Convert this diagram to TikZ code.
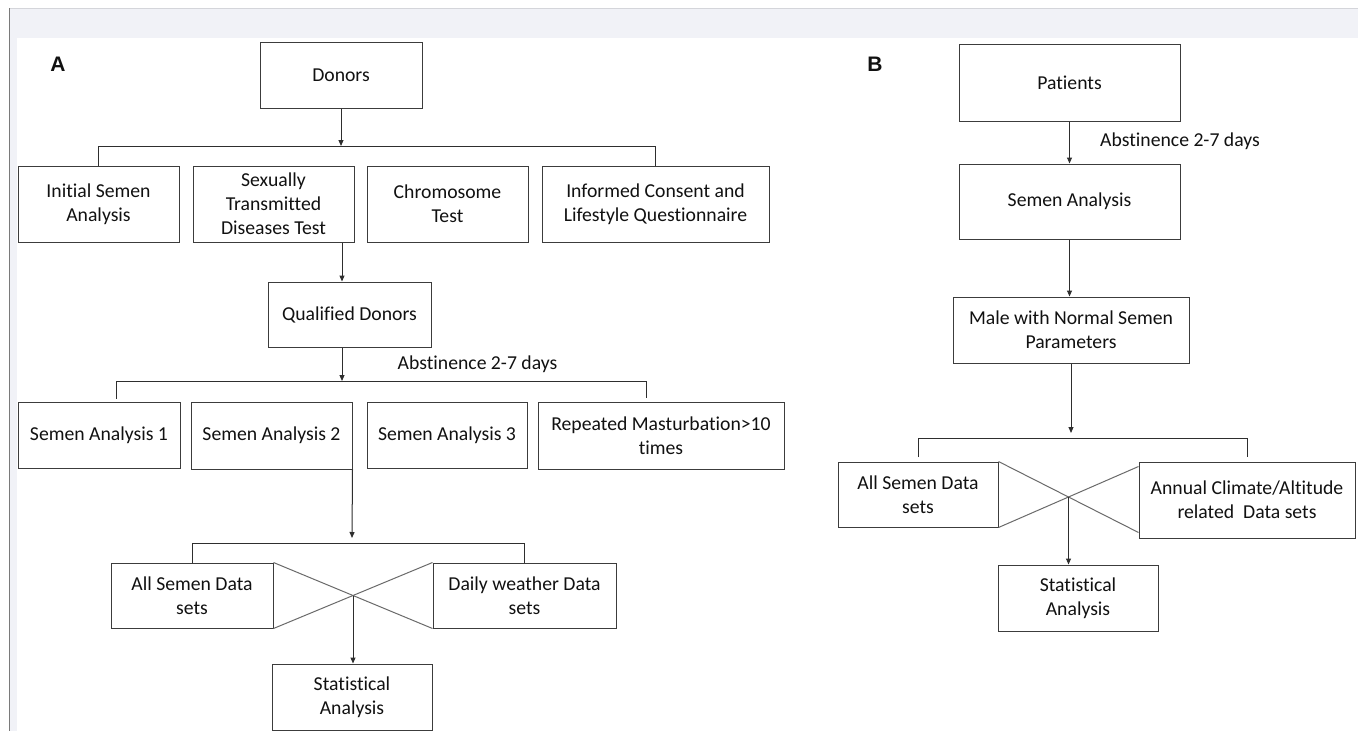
\documentclass[tikz,border=0pt]{standalone}
\usepackage{fontspec}
\setmainfont[Ligatures={NoCommon}]{Carlito}
\newfontfamily\lblfont{Liberation Sans}
\usetikzlibrary{arrows.meta,calc}
\definecolor{bandc}{HTML}{F1F2F7}
\definecolor{topc}{HTML}{D4D5DA}
\definecolor{leftc}{HTML}{7A7A7A}
\definecolor{boxc}{HTML}{3C3C3C}
\definecolor{linec}{HTML}{2E2E2E}
\definecolor{crossc}{HTML}{6A6A6A}
\definecolor{txtc}{HTML}{111111}
\begin{document}
\begin{tikzpicture}[x=1pt,y=-1pt,
  font=\fontsize{19.7}{24}\selectfont,
  box/.style={draw=boxc, line width=1pt, align=center, inner sep=0pt, text=txtc},
  conn/.style={draw=linec, line width=1pt},
  arr/.style={conn, -{Triangle[length=6pt,width=5pt]}},
  cross/.style={draw=crossc, line width=1pt},
  lbl/.style={font=\lblfont\fontsize{21}{24}\selectfont\bfseries, text=txtc, inner sep=0pt},
  note/.style={text=txtc, inner sep=0pt}]
\useasboundingbox (0,0) rectangle (1358,731);
\fill[white] (0,0) rectangle (1358,731);
\fill[bandc] (9,8) rectangle (1358,38);
\fill[bandc] (9,8) rectangle (17,731);
\draw[topc, line width=1pt] (9,8.5) -- (1358,8.5);
\draw[leftc, line width=1pt] (9.5,8) -- (9.5,731);

% ---------------- Panel A ----------------
\node[lbl] (labA) at (58,64) {A};
\node[box, minimum width=162pt, minimum height=66pt] (donors) at (341,75) {Donors};
\node[box, minimum width=161pt, minimum height=76pt] (isa) at (98.5,204) {Initial Semen\\Analysis};
\node[box, minimum width=161pt, minimum height=76pt] (std) at (273.5,204) {Sexually\\Transmitted\\Diseases Test};
\node[box, minimum width=161pt, minimum height=76pt] (chrom) at (447.5,204) {Chromosome\\Test};
\node[box, minimum width=227pt, minimum height=76pt] (icq) at (655.5,204) {Informed Consent and\\Lifestyle Questionnaire};
\node[box, minimum width=163pt, minimum height=65pt] (qd) at (349.5,314.5) {Qualified Donors};
\node[note] (absA) at (477.5,364) {Abstinence 2-7 days};
\node[box, minimum width=162pt, minimum height=66pt] (sa1) at (99,435) {Semen Analysis 1};
\node[box, minimum width=161pt, minimum height=67pt] (sa2) at (271.5,435.5) {Semen Analysis 2};
\node[box, minimum width=160pt, minimum height=66pt] (sa3) at (447,435) {Semen Analysis 3};
\node[box, minimum width=246pt, minimum height=67pt] (rep) at (661,435.5) {Repeated Masturbation>10\\times};
\node[box, minimum width=162pt, minimum height=65pt] (allA) at (192,595.5) {All Semen Data\\sets};
\node[box, minimum width=183pt, minimum height=65pt] (daily) at (524.5,595.5) {Daily weather Data\\sets};
\node[box, minimum width=160pt, minimum height=66pt] (statA) at (352,697) {Statistical\\Analysis};

% connectors A
\coordinate (b1) at (341,146);
\draw[arr] (donors.south) -- (b1);
\draw[conn] (isa.north) -- (isa.north |- b1) -- (icq.north |- b1) -- (icq.north);

\coordinate (x1) at (342,0);
\draw[arr] (std.south -| x1) -- (qd.north -| x1);

\coordinate (b2) at (342,381);
\coordinate (b2l) at (116,381);
\coordinate (b2r) at (646,381);
\draw[arr] (qd.south -| b2) -- (b2);
\draw[conn] ($(b2l |- sa1.north)+(0,-3)$) -- (b2l) -- (b2r) -- ($(b2r |- rep.north)+(0,-4)$);

\coordinate (b3) at (352,543);
\draw[arr] (sa2.south east) -- ($(b3)+(0,-5)$);
\draw[conn] (allA.north) -- (allA.north |- b3) -- (daily.north |- b3) -- (daily.north);

\draw[cross] (allA.north east) -- (daily.south west);
\draw[cross] (allA.south east) -- (daily.north west);
\coordinate (xA) at ($(allA.north east)!0.5!(daily.south west)$);
\draw[arr] (xA) -- (statA.north -| xA);

% ---------------- Panel B ----------------
\node[lbl] (labB) at (875,64) {B};
\node[box, minimum width=221pt, minimum height=77pt] (pat) at (1069.5,82.5) {Patients};
\node[note] (absB) at (1180,141) {Abstinence 2-7 days};
\node[box, minimum width=221pt, minimum height=75pt] (sem) at (1069.5,201.5) {Semen Analysis};
\node[box, minimum width=236pt, minimum height=66pt] (male) at (1071,330) {Male with Normal Semen\\Parameters};
\node[box, minimum width=160pt, minimum height=65pt] (allB) at (918,494.5) {All Semen Data\\sets};
\node[box, minimum width=216pt, minimum height=76pt] (ann) at (1247,500) {Annual Climate/Altitude\\related\ \ Data sets};
\node[box, minimum width=160pt, minimum height=66pt] (statB) at (1078,598) {Statistical\\Analysis};

% connectors B
\draw[arr] (pat.south) -- (sem.north);
\draw[arr] (sem.south) -- (sem.south |- male.north);
\coordinate (b4) at (1071,438);
\draw[arr] (male.south) -- ($(b4)+(0,-5)$);
\draw[conn] ($(allB.north |- b4)+(0,19)$) -- (allB.north |- b4) -- (ann.north |- b4) -- ($(ann.north |- b4)+(0,19)$);

\draw[cross] (allB.north east) -- ($(ann.south west)+(0,-6)$);
\draw[cross] (allB.south east) -- ($(ann.north west)+(0,5)$);
\coordinate (xB) at ($(allB.north east)!0.5!(ann.south west)+(0,-3)$);
\draw[arr] (xB) -- (statB.north -| xB);
\end{tikzpicture}
\end{document}
